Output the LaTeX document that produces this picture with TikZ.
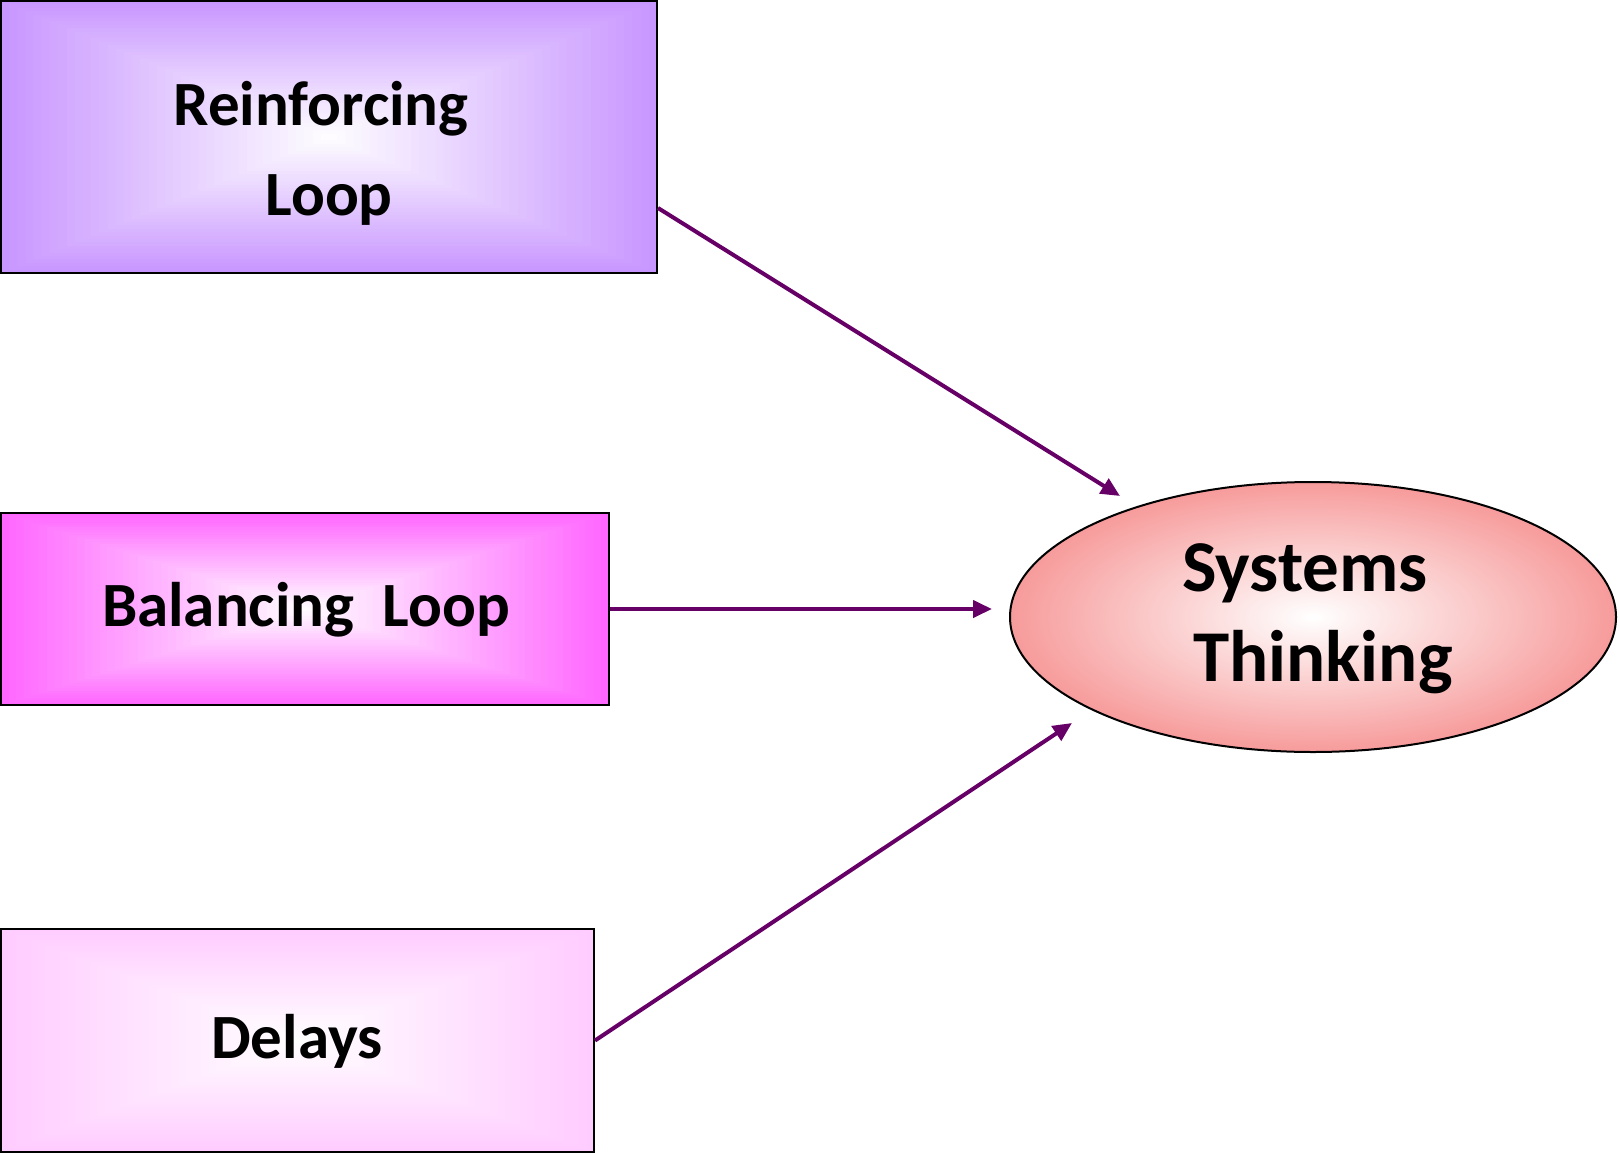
\documentclass[tikz,border=0pt]{standalone}
\usepackage{fontspec}
\setmainfont{Carlito}
\usetikzlibrary{arrows.meta,shapes.geometric,calc}
\definecolor{reinC}{RGB}{200,150,255}
\definecolor{balC}{RGB}{255,102,255}
\definecolor{delC}{RGB}{255,204,255}
\definecolor{sysC}{RGB}{247,155,155}
\definecolor{arrC}{RGB}{102,0,102}
\tikzset{
  rgrad/.style={path picture={
    \foreach \i in {0,...,40}{
      \pgfmathsetmacro\f{1-\i/40}
      \pgfmathsetmacro\p{100*\i/40}
      \fill[white!\p!#1] ($(path picture bounding box.center)!\f!(path picture bounding box.north east)$) rectangle ($(path picture bounding box.center)!\f!(path picture bounding box.south west)$);
    }}},
  boxnode/.style={draw=black, line width=2pt, rectangle, inner sep=0pt, rgrad=#1},
  boxtext/.style={anchor=base, inner sep=0pt, font=\bfseries\fontsize{63}{75}\selectfont},
  elltext/.style={anchor=base, inner sep=0pt, font=\bfseries\fontsize{73}{85}\selectfont},
  conn/.style={draw=arrC, line width=4pt, -{Triangle[length=19pt,width=17pt]}}
}
\begin{document}
\begin{tikzpicture}[x=1pt,y=-1pt]
\useasboundingbox[fill=white] (0,0) rectangle (1619,1153);
\node[boxnode=reinC, minimum width=656pt, minimum height=272pt] (rein) at (329,137) {};
\node[boxnode=balC, minimum width=608pt, minimum height=192pt] (bal) at (305,609) {};
\node[boxnode=delC, minimum width=593pt, minimum height=223pt] (del) at (297.5,1040.5) {};
\node[ellipse, draw=black, line width=2pt, inner sep=0pt, minimum width=606pt, minimum height=270pt, inner color=white, outer color=sysC] (sys) at (1313,617) {};

\node[boxtext] (t1a) at (321,126) {Reinforcing};
\node[boxtext] (t1b) at (329,215) {Loop};
\node[boxtext] (t2) at (306,626) {Balancing\ \ Loop};
\node[boxtext] (t3) at (297,1058) {Delays};
\node[elltext] (t4a) at (1305,591) {Systems};
\node[elltext] (t4b) at (1323,681) {Thinking};

\coordinate (s1) at (rein.east |- 0,208);
\coordinate (e1) at (1120,496);
\coordinate (e2) at (992,609);
\coordinate (e3) at (1072,723);

\draw[conn] (s1) -- (e1);
\draw[conn] (bal.east) -- (e2);
\draw[conn] (del.east) -- (e3);
\end{tikzpicture}
\end{document}
